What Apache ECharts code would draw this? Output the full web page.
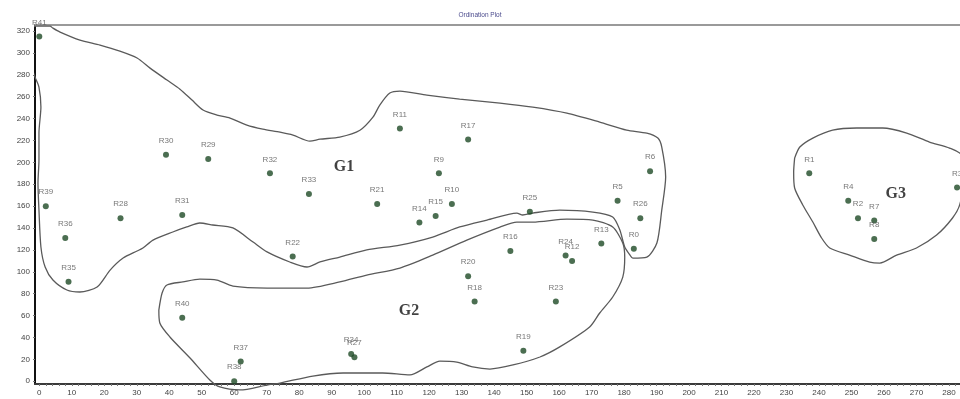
<!DOCTYPE html>
<html>
<head>
<meta charset="utf-8">
<title>Ordination Plot</title>
<script src="https://cdn.jsdelivr.net/npm/echarts@6/dist/echarts.min.js"></script>
<style>
  html, body { margin: 0; padding: 0; background: #ffffff; }
  #chart { width: 960px; height: 399px; }
</style>
</head>
<body>
<div id="chart"></div>
<script>
// Sample scores on the two ordination axes
const sampleNames = ['R0','R1','R2','R3','R4','R5','R6','R7','R8','R9','R10','R11','R12','R13',
  'R14','R15','R16','R17','R18','R19','R20','R21','R22','R23','R24','R25','R26','R27','R28',
  'R29','R30','R31','R32','R33','R34','R35','R36','R37','R38','R39','R40','R41'];
const sampleX = [183,237,252,282.5,249,178,188,257,257,123,127,111,164,173,
  117,122,145,132,134,149,132,104,78,159,162,151,185,97,25,
  52,39,44,71,83,96,9,8,62,60,2,44,0];
const sampleY = [121,190,149,177,165,165,192,147,130,190,162,231,110,126,
  145,151,119,221,73,28,96,162,114,73,115,155,149,22,149,
  203,207,152,190,171,25,91,131,18,0,160,58,315];

// Axis tick labels
const xTicks = [0,10,20,30,40,50,60,70,80,90,100,110,120,130,140,150,160,170,180,190,200,
  210,220,230,240,250,260,270,280];
const yTicks = [0,20,40,60,80,100,120,140,160,180,200,220,240,260,280,300,320];

// Group names and where they are written
const groupNames = ['G1','G2','G3'];
const groupLabelX = [93.8,113.8,263.6];
const groupLabelY = [195.7,64.3,171];

// Hand-drawn group boundaries (axis units)
const g1Outline = [
  [-1.0,324.5],[3.3,324.5],[4.2,322.6],[6.4,319],[12.5,311.7],[18.7,307.1],[24.8,301.6],
  [30.1,295.3],[34.1,286.1],[39.3,275.2],[43.3,266.9],[47,256.9],[50.4,247.8],[54.7,243.2],
  [58.7,240.5],[63.9,234.1],[68.8,230.4],[74.1,227.6],[78.1,224.9],[83.3,219.4],[86.4,221.2],
  [92.5,223.1],[98.7,229.4],[102.7,241.3],[104.8,252.3],[107.9,263.3],[111,265.1],[119.3,261.4],
  [129.4,257.8],[141.8,254.2],[151.9,250.5],[162.4,245],[172.5,236.8],[180.8,229.5],[187,226.7],
  [190.4,222.2],[191.6,214],[192.8,186.6],[191.6,156.4],[190.1,126.3],[187,113.5],[182.7,112.6],
  [181.8,115.4],[180.2,122.7],[178.7,138.2],[176.5,150.1],[170.4,154.6],[160.2,156.4],
  [151.9,153.7],[148.8,151.9],[147,153.7],[137.8,147.3],[129.4,141],[121.1,131.8],[111,124.5],
  [100.8,120],[92.5,113.5],[86.4,109],[82.4,104.4],[77.1,109],[70.1,118.2],[65.8,127.2],
  [59.6,140.1],[53.4,142.8],[49.4,144.6],[45.4,141],[41.1,136.4],[35,129],[31.9,121.7],
  [30.1,119],[25.8,112.6],[21.8,101.6],[17.8,86.1],[12.5,81.6],[8.5,83.4],[4.2,92.5],
  [1.8,104.4],[0.5,122.7],[-0.1,156.4],[-0.4,181.2],[-0.1,202.2],[-0.1,226.8],[0.5,250.5],
  [-0.1,268.8],[-1.3,277.9],[-2.2,287],[-2.2,302.6],[-1.9,323.5],[-1.0,324.5]
];
const g2Outline = [
  [36.8,65.1],[37.8,80.6],[39.3,88],[44.2,90.8],[49.4,93.4],[54.7,92.5],[59.6,87],[70.1,85.2],
  [82.4,85.2],[92.5,90.8],[100.8,97.1],[111,103.5],[121.1,115.3],[131.6,129],[141.8,140.9],
  [147,145.5],[151.9,145.5],[162.4,148.2],[170.4,147.3],[176.5,140.9],[179.6,126.3],
  [180.2,113.5],[179.6,95.2],[176.5,77],[172.5,62.4],[169.4,49.6],[160.2,31.4],[154.1,22.2],
  [145.8,14.9],[138.7,11.2],[133.4,13.1],[128.5,17.6],[123.3,18.5],[119.3,13.1],[114.1,5.8],
  [105.7,7.6],[93.5,7.6],[84.2,4.8],[74.1,-1.6],[70.1,-3.4],[61.8,-7.9],[55.6,-5.2],
  [52.5,1.2],[46.4,21.3],[40.2,40.5],[37.1,53.3],[36.8,65.1]
];
const g3Outline = [
  [232.5,203.9],[234.1,214],[238.1,222.2],[244.2,229.5],[251.6,231.4],[259.6,231.4],
  [267,226.8],[274,218.6],[280.2,213.1],[283.9,206.7],[284.5,184],[283.3,161.1],[281.1,149.2],
  [276.2,133.6],[270,121.8],[263.9,115.3],[258.7,108],[255.6,108.9],[249.4,115.3],
  [243.3,121.8],[240.8,130.9],[238.1,145.5],[235,161.1],[232.5,176.6],[232.2,191.2],[232.5,203.9]
];

const xTickMarks = [];
for (let v = 0; v <= 282; v += 2) xTickMarks.push(v);

const samples = sampleNames.map((n, i) => ({ name: n, value: [sampleX[i], sampleY[i]] }));
const groupLabels = groupNames.map((n, i) => ({ name: n, value: [groupLabelX[i], groupLabelY[i]] }));

const outlineSeries = [g1Outline, g2Outline, g3Outline].map(pts => ({
  type: 'line',
  data: pts,
  symbol: 'none',
  smooth: 0.25,
  clip: false,
  silent: true,
  z: 1,
  lineStyle: { color: '#5a5a5a', width: 1.3 }
}));

const chart = echarts.init(document.getElementById('chart'), null, { renderer: 'canvas' });
chart.setOption({
  animation: false,
  backgroundColor: '#ffffff',
  title: {
    text: 'Ordination Plot',
    left: 'center',
    top: 7,
    textStyle: { fontFamily: 'Liberation Sans', fontSize: 6.5, fontWeight: 'normal', color: '#4a4a8c' }
  },
  grid: { left: 35, right: 0, top: 25, bottom: 15, containLabel: false },
  xAxis: [{
    type: 'value',
    min: -1.32,
    max: 283.4,
    splitLine: { show: false },
    axisLine: { show: true, onZero: false, lineStyle: { color: '#3a3a3a', width: 2 } },
    axisTick: { show: true, customValues: xTickMarks, length: 2, lineStyle: { color: '#777', width: 1 } },
    axisLabel: {
      customValues: xTicks, margin: 5,
      fontFamily: 'Liberation Sans', fontSize: 8, color: '#444'
    }
  }, {
    type: 'value',
    position: 'top',
    min: -1.32,
    max: 283.4,
    splitLine: { show: false },
    axisLine: { show: true, onZero: false, lineStyle: { color: '#9a9a9a', width: 2 } },
    axisTick: { show: false },
    axisLabel: { show: false }
  }],
  yAxis: {
    type: 'value',
    min: -2.47,
    max: 325.5,
    splitLine: { show: false },
    axisLine: { show: true, onZero: false, lineStyle: { color: '#111', width: 2 } },
    axisTick: { show: true, customValues: yTicks, length: 2, lineStyle: { color: '#777', width: 1 } },
    axisLabel: {
      customValues: yTicks, margin: 5,
      fontFamily: 'Liberation Sans', fontSize: 8, color: '#444'
    }
  },
  series: [
    ...outlineSeries,
    {
      type: 'scatter',
      data: samples,
      symbol: 'circle',
      symbolSize: 6,
      clip: false,
      z: 3,
      itemStyle: { color: '#1e4a25' },
      label: {
        show: true,
        position: 'top',
        distance: 7,
        formatter: p => p.name,
        fontFamily: 'Liberation Sans',
        fontSize: 8,
        color: '#555'
      }
    },
    {
      type: 'scatter',
      data: groupLabels,
      symbolSize: 0,
      silent: true,
      z: 4,
      label: {
        show: true,
        position: 'inside',
        formatter: p => p.name,
        fontFamily: 'Liberation Serif',
        fontWeight: 'bold',
        fontSize: 16,
        color: '#111'
      }
    }
  ]
});
</script>
</body>
</html>
